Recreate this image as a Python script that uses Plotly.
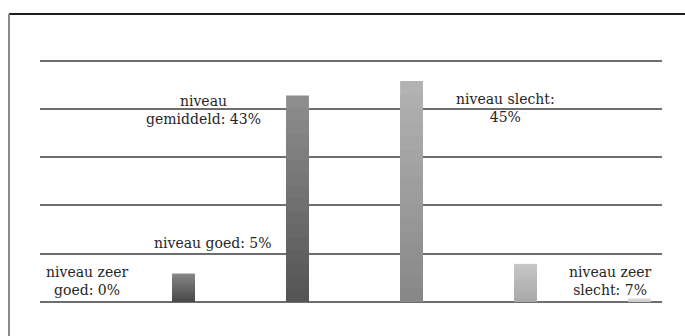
import plotly.graph_objects as go

# Bar heights (percent, gridlines every 10%)
bar_pos = [0, 1, 2, 3, 4]
bar_values = [5.9, 42.8, 45.8, 7.9, 0.7]
# gradient colours per bar (top, bottom)
bar_top = ["#858585", "#8d8d8d", "#b2b2b2", "#c6c6c6", "#dadada"]
bar_bottom = ["#4a4a4a", "#555555", "#888888", "#a9a9a9", "#cdcdcd"]

# Data labels
label_text = ["niveau zeer<br>goed: 0%", "niveau goed: 5%", "niveau<br>gemiddeld: 43%",
              "niveau slecht:<br>45%", "niveau zeer<br>slecht: 7%"]
label_x = [-0.846, 0.259, 0.176, 2.82, 3.737]
label_y = [4.4, 12.3, 39.8, 40.2, 4.3]


def mix(c1, c2, t):
    a = [int(c1[i:i + 2], 16) for i in (1, 3, 5)]
    b = [int(c2[i:i + 2], 16) for i in (1, 3, 5)]
    return "#%02x%02x%02x" % tuple(round(a[j] + (b[j] - a[j]) * t) for j in range(3))


W, H = 685, 336
ML, MR, MT, MB = 40, 23, 51, 34
PW, PH = W - ML - MR, H - MT - MB

N = 16
fig = go.Figure()
for k in range(N):
    frac = 1 - k / N
    fig.add_trace(go.Bar(
        x=bar_pos,
        y=[v * frac for v in bar_values],
        width=0.2,
        marker=dict(color=[mix(bar_top[i], bar_bottom[i], k / (N - 1)) for i in range(5)],
                    line=dict(width=0)),
        hoverinfo="skip",
        showlegend=False,
    ))

for t, x, y in zip(label_text, label_x, label_y):
    fig.add_annotation(x=x, y=y, text=t, showarrow=False, xanchor="center", yanchor="middle",
                       align="center", font=dict(family="DejaVu Serif", size=14, color="#262626"))

top_y = (H - 14 - MB) / PH
left_x = (9 - ML) / PW

fig.update_layout(
    width=W, height=H,
    margin=dict(l=ML, r=MR, t=MT, b=MB),
    paper_bgcolor="white", plot_bgcolor="white",
    barmode="overlay",
    xaxis=dict(range=[-1.259, 4.197], showgrid=False, showticklabels=False, zeroline=False,
               showline=False, fixedrange=True),
    yaxis=dict(range=[0, 52], dtick=10, showgrid=True, gridcolor="#6e6e6e", gridwidth=1.6,
               showticklabels=False, zeroline=True, zerolinecolor="#6e6e6e", zerolinewidth=1.6,
               showline=False, fixedrange=True),
    shapes=[
        dict(type="line", xref="paper", yref="paper", x0=left_x, x1=1.1, y0=top_y, y1=top_y,
             line=dict(color="#1e1e1e", width=2), layer="above"),
        dict(type="line", xref="paper", yref="paper", x0=left_x, x1=left_x, y0=top_y, y1=-0.2,
             line=dict(color="#8a8a8a", width=2), layer="above"),
    ],
)

fig.write_html("out.html")
